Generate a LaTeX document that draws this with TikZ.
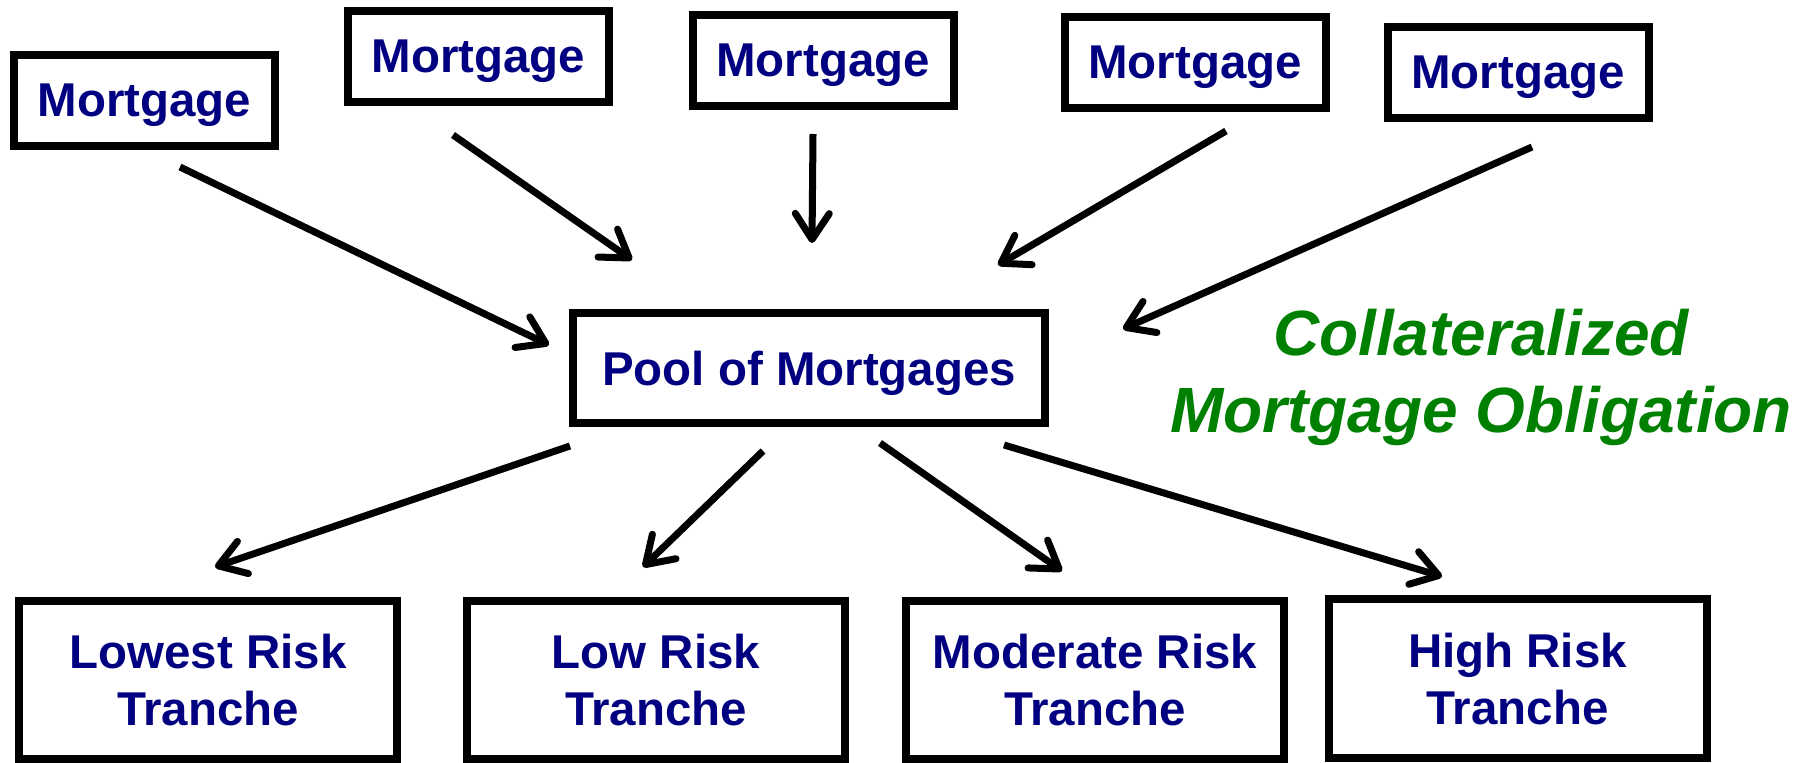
\documentclass[tikz,border=0pt]{standalone}
\usepackage{fontspec}
\setmainfont{Liberation Sans}
\usepackage{tikz}
\usetikzlibrary{arrows.meta}
\usepackage{xcolor}
\definecolor{navy}{RGB}{0,0,128}
\definecolor{cmogreen}{RGB}{0,128,0}

\begin{document}
\begin{tikzpicture}[
    box/.style={draw=black,line width=0.08cm,inner sep=0pt,text=navy,align=center,text depth=-0.05cm,
        font=\bfseries\fontsize{13.5}{16.2}\selectfont},
    mortgage/.style={box,minimum width=2.61cm,minimum height=0.91cm},
    tranche/.style={box,minimum width=3.78cm,minimum height=1.58cm},
    arr/.style={line width=0.07cm,-{Straight Barb[length=0.26cm,width=0.34cm,round]}}]
    \useasboundingbox (0,0) rectangle (18.13,-7.63);

    \node[mortgage] (m1) at (1.445,-1.005) {Mortgage};
    \node[mortgage] (m2) at (4.785,-0.565) {Mortgage};
    \node[mortgage] (m3) at (8.23,-0.605) {Mortgage};
    \node[mortgage] (m4) at (11.95,-0.625) {Mortgage};
    \node[mortgage] (m5) at (15.18,-0.725) {Mortgage};

    \node[box,minimum width=4.72cm,minimum height=1.10cm] (pool) at (8.09,-3.68) {Pool of Mortgages};

    \node[tranche] (t1) at (2.08,-6.80) {Lowest Risk\\Tranche};
    \node[tranche] (t2) at (6.56,-6.80) {Low Risk\\Tranche};
    \node[tranche] (t3) at (10.95,-6.80) {Moderate Risk\\Tranche};
    \node[tranche] (t4) at (15.175,-6.785) {High Risk\\Tranche};

    \node[text=cmogreen,align=center,font=\bfseries\itshape\fontsize{18.2}{21.9}\selectfont] (cmo) at (14.81,-3.77) {Collateralized\\Mortgage Obligation};

    % mortgages into the pool
    \draw[arr] ([shift={(0.355,-0.17)}]m1.south) -- ([shift={(-0.20,0.23)}]pool.west);
    \draw[arr] ([shift={(-0.255,-0.29)}]m2.south) -- ([shift={(-1.77,0.49)}]pool.north);
    \draw[arr] ([shift={(-0.10,-0.24)}]m3.south) -- ([shift={(0.03,0.66)}]pool.north);
    \draw[arr] ([shift={(0.31,-0.19)}]m4.south) -- ([shift={(1.89,0.44)}]pool.north);
    \draw[arr] ([shift={(0.14,-0.25)}]m5.south) -- ([shift={(0.74,-0.20)}]pool.north east);

    % pool out to the tranches
    \draw[arr] ([shift={(0.01,-0.19)}]pool.south west) -- ([shift={(0.07,0.30)}]t1.north);
    \draw[arr] ([shift={(-0.46,-0.24)}]pool.south) -- ([shift={(-0.13,0.30)}]t2.north);
    \draw[arr] ([shift={(0.71,-0.16)}]pool.south) -- ([shift={(-0.33,0.26)}]t3.north);
    \draw[arr] ([shift={(-0.45,-0.18)}]pool.south east) -- ([shift={(-0.755,0.19)}]t4.north);
\end{tikzpicture}
\end{document}
